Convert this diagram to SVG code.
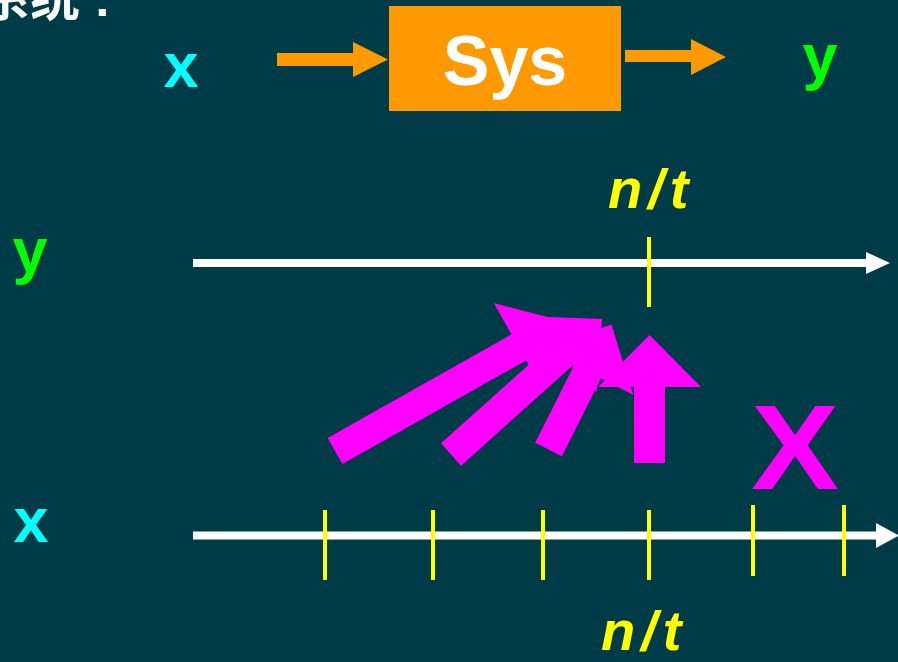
<svg xmlns="http://www.w3.org/2000/svg" width="898" height="662" viewBox="0 0 898 662">
<style>
.t{font-family:"Liberation Sans","Noto Sans CJK SC",Arial,sans-serif;font-weight:bold}
.ax{stroke:#ffffff;stroke-width:8}
.tk{stroke:#ffff00;stroke-width:4}
.mg{fill:#ff00ff}
.or{fill:#ff9900}
.nt{font-size:56px;font-style:italic;fill:#ffff00;letter-spacing:6px}
</style>
<rect width="898" height="662" fill="#003c47"/>
<text class="t" x="-20" y="16" font-size="50" fill="#ffffff">系统 :</text>
<g id="sys">
<rect x="389" y="6" width="232" height="105" fill="#ff9900"/>
<text class="t" x="505" y="85" font-size="70" fill="#ffffff" text-anchor="middle">Sys</text>
</g>
<g id="label-x-top"><text class="t" x="181" y="87" font-size="63" fill="#00ffff" text-anchor="middle">x</text></g>
<g id="label-y-top"><text class="t" x="820" y="78" font-size="63" fill="#00ff00" text-anchor="middle">y</text></g>
<g id="connectors">
<polygon class="or" points="277,53 353,53 353,42 388,59.5 353,77 353,66 277,66"/>
<polygon class="or" points="625,50 691,50 691,39 726,57 691,75 691,62 625,62"/>
</g>
<g id="y-axis">
<text class="t" x="30" y="272" font-size="63" fill="#00ff00" text-anchor="middle">y</text>
<line class="ax" x1="193" y1="263" x2="868" y2="263"/>
<polygon fill="#ffffff" points="866,252 890,263 866,274"/>
<line class="tk" x1="649" y1="237" x2="649" y2="307"/>
<text class="t nt" x="608" y="208">n/t</text>
</g>
<g id="x-axis">
<text class="t" x="31" y="542" font-size="63" fill="#00ffff" text-anchor="middle">x</text>
<line class="ax" x1="193" y1="535.5" x2="878" y2="535.5"/>
<polygon fill="#ffffff" points="876,523 899,535.5 876,548"/>
<line class="tk" x1="325" y1="510" x2="325" y2="580"/>
<line class="tk" x1="433" y1="510" x2="433" y2="580"/>
<line class="tk" x1="543" y1="510" x2="543" y2="580"/>
<line class="tk" x1="649" y1="510" x2="649" y2="580"/>
<line class="tk" x1="753" y1="505" x2="753" y2="576"/>
<line class="tk" x1="844" y1="505" x2="844" y2="576"/>
<text class="t nt" x="601" y="650">n/t</text>
</g>
<g id="arrows">
<polygon class="mg" transform="translate(335,451) rotate(-29.4)" points="0,-15 211,-15 211,-51 264,0 211,51 211,15 0,15"/>
<polygon class="mg" transform="translate(451,454.5) rotate(-41.9)" points="0,-15 150,-15 150,-51 203,0 150,51 150,15 0,15"/>
<polygon class="mg" transform="translate(548.5,449.5) rotate(-63.3)" points="0,-15 87,-15 87,-51 140,0 87,51 87,15 0,15"/>
<polygon class="mg" transform="translate(649.5,463) rotate(-90)" points="0,-15.5 76,-15.5 76,-51.5 128,0 76,51.5 76,15.5 0,15.5"/>
</g>
<g id="big-x"><text class="t" transform="translate(795,489) scale(1.1,1)" x="0" y="0" font-size="120" fill="#ff00ff" text-anchor="middle">X</text></g>
</svg>
